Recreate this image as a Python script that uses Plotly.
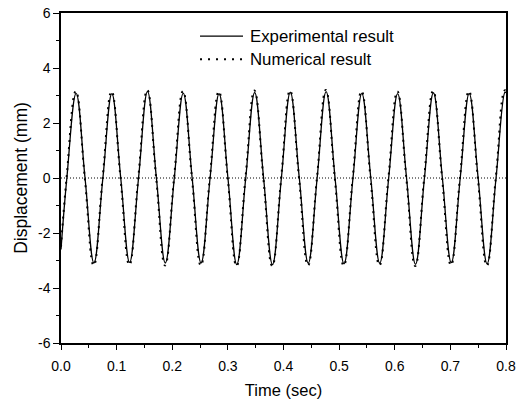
import plotly.graph_objects as go

# ---- data ----
exp_time = [0.0, 0.0105, 0.0272, 0.0432, 0.0592, 0.0753, 0.0914, 0.1074, 0.1233, 0.1394,
            0.1555, 0.1715, 0.1875, 0.2037, 0.2198, 0.2358, 0.2518, 0.2680, 0.2842, 0.3001,
            0.3160, 0.3321, 0.3482, 0.3642, 0.3802, 0.3962, 0.4122, 0.4284, 0.4445, 0.4605,
            0.4766, 0.4927, 0.5088, 0.5249, 0.5408, 0.5569, 0.5730, 0.5891, 0.6052, 0.6212,
            0.6373, 0.6534, 0.6695, 0.6856, 0.7016, 0.7177, 0.7338, 0.7499, 0.7660, 0.7821,
            0.7982, 0.8000]
exp_disp = [-2.60, 0.0, 3.08, 0.0, -3.09, 0.0, 3.07, 0.0, -3.07, 0.0,
            3.15, 0.0, -3.09, 0.0, 3.09, 0.0, -3.09, 0.0, 3.07, 0.0,
            -3.15, 0.0, 3.11, 0.0, -3.15, 0.0, 3.12, 0.0, -3.10, 0.0,
            3.14, 0.0, -3.12, 0.0, 3.08, 0.0, -3.10, 0.0, 3.07, 0.0,
            -3.14, 0.0, 3.10, 0.0, -3.08, 0.0, 3.08, 0.0, -3.12, 0.0,
            3.12, 3.10]

num_time = [0.0, 0.0100, 0.0267, 0.0428, 0.0588, 0.0748, 0.0909, 0.1070, 0.1229, 0.1389,
            0.1550, 0.1711, 0.1871, 0.2032, 0.2193, 0.2354, 0.2514, 0.2675, 0.2837, 0.2997,
            0.3156, 0.3316, 0.3477, 0.3638, 0.3798, 0.3958, 0.4117, 0.4279, 0.4440, 0.4601,
            0.4761, 0.4922, 0.5083, 0.5244, 0.5403, 0.5564, 0.5725, 0.5886, 0.6047, 0.6208,
            0.6368, 0.6529, 0.6690, 0.6851, 0.7011, 0.7172, 0.7333, 0.7494, 0.7655, 0.7816,
            0.7977, 0.8000]
num_disp = [-2.50, 0.0, 3.16, 0.0, -3.18, 0.0, 3.15, 0.0, -3.16, 0.0,
            3.20, 0.0, -3.18, 0.0, 3.16, 0.0, -3.18, 0.0, 3.15, 0.0,
            -3.20, 0.0, 3.18, 0.0, -3.20, 0.0, 3.18, 0.0, -3.18, 0.0,
            3.20, 0.0, -3.19, 0.0, 3.16, 0.0, -3.18, 0.0, 3.15, 0.0,
            -3.20, 0.0, 3.17, 0.0, -3.17, 0.0, 3.16, 0.0, -3.19, 0.0,
            3.19, 3.17]

y_tick_vals = [-6, -4, -2, 0, 2, 4, 6]
y_tick_text = ["-6", "-4", "-2", "0", "2", "4", "6"]
x_tick_vals = [0.0, 0.1, 0.2, 0.3, 0.4, 0.5, 0.6, 0.7, 0.8]
x_tick_text = ["0.0", "0.1", "0.2", "0.3", "0.4", "0.5", "0.6", "0.7", "0.8"]

series_names = ["Experimental result", "Numerical result"]

FONT = "Arial, 'Liberation Sans', sans-serif"

fig = go.Figure()
fig.add_trace(go.Scatter(x=exp_time, y=exp_disp, mode="lines", name=series_names[0],
                         line=dict(color="black", width=1.3, shape="spline", smoothing=1.15),
                         showlegend=False))
fig.add_trace(go.Scatter(x=num_time, y=num_disp, mode="lines", name=series_names[1],
                         line=dict(color="black", width=2, dash="2px,5px", shape="spline", smoothing=1.3),
                         showlegend=False))

# zero reference line (dotted)
fig.add_shape(type="line", xref="paper", x0=0, x1=1, yref="y", y0=0, y1=0,
              line=dict(color="black", width=1, dash="1px,2px"), layer="above")

# manual legend
fig.add_shape(type="line", xref="paper", yref="paper", x0=0.3124, x1=0.409, y0=0.930, y1=0.930,
              line=dict(color="black", width=1.3))
fig.add_shape(type="line", xref="paper", yref="paper", x0=0.3124, x1=0.409, y0=0.8597, y1=0.8597,
              line=dict(color="black", width=2, dash="2px,6px"))
fig.add_annotation(xref="paper", yref="paper", x=0.4202, y=0.930, text=series_names[0],
                   showarrow=False, xanchor="left", yanchor="middle",
                   font=dict(family=FONT, size=16.8, color="black"))
fig.add_annotation(xref="paper", yref="paper", x=0.4202, y=0.8597, text=series_names[1],
                   showarrow=False, xanchor="left", yanchor="middle",
                   font=dict(family=FONT, size=16.8, color="black"))

fig.update_layout(
    width=522, height=400,
    margin=dict(l=61, r=16, t=13, b=57, autoexpand=False),
    paper_bgcolor="white", plot_bgcolor="white",
    font=dict(family=FONT, color="black"),
    xaxis=dict(range=[0, 0.8], tickvals=x_tick_vals, ticktext=x_tick_text,
               ticks="outside", ticklen=5, tickwidth=1.2, tickcolor="black",
               minor=dict(dtick=0.05, ticks="outside", ticklen=3, tickwidth=1.2, tickcolor="black"),
               showline=True, linecolor="black", linewidth=1.5, mirror=True,
               showgrid=False, zeroline=False, automargin=False,
               ticklabelstandoff=4,
               tickfont=dict(size=14, family=FONT),
               title=dict(text="Time (sec)", font=dict(size=16.5, family=FONT), standoff=12)),
    yaxis=dict(range=[-6, 6], tickvals=y_tick_vals, ticktext=y_tick_text,
               ticks="outside", ticklen=6, tickwidth=1.2, tickcolor="black",
               minor=dict(dtick=1, ticks="outside", ticklen=3, tickwidth=1.2, tickcolor="black"),
               showline=True, linecolor="black", linewidth=1.5, mirror=True,
               showgrid=False, zeroline=False, automargin=False,
               tickfont=dict(size=14, family=FONT),
               title=dict(text="Displacement (mm)", font=dict(size=17.5, family=FONT), standoff=6)),
)

fig.write_html("out.html")
